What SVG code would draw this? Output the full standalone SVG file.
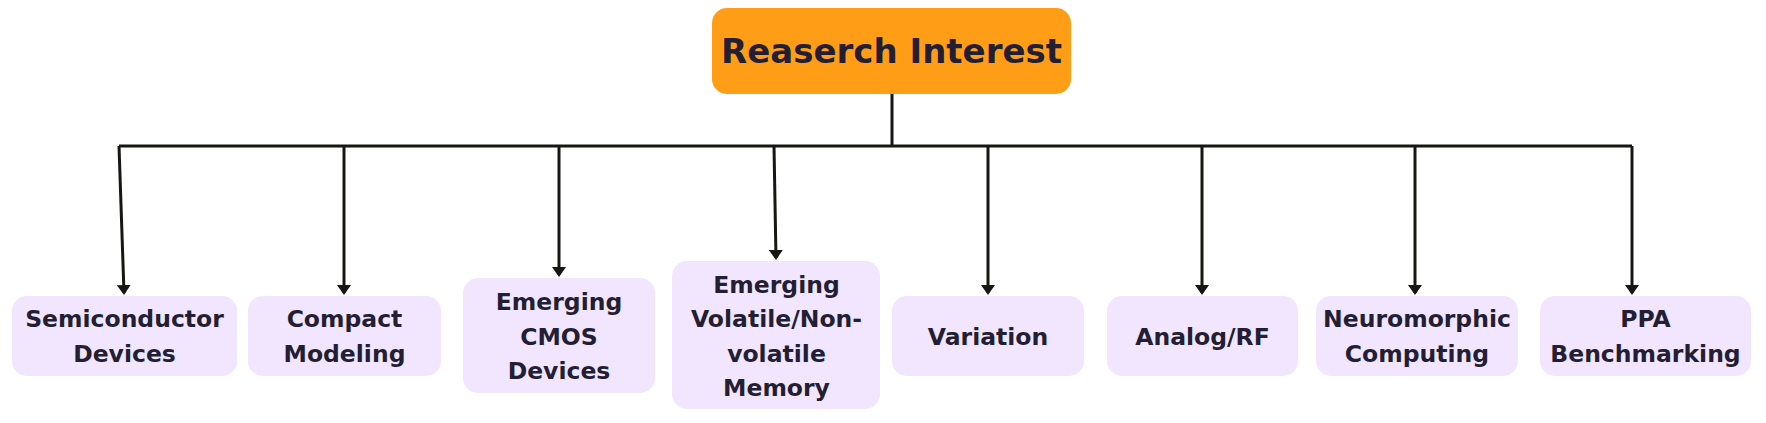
<svg xmlns="http://www.w3.org/2000/svg" width="1766" height="423" viewBox="0 0 1766 423">
<style>
.bg{fill:#ffffff}
.root{fill:#FF9E16}
.leaf{fill:#F1E6FD}
.t{font-family:"DejaVu Sans",sans-serif;font-weight:bold;fill:#231E33;text-anchor:middle}
.tt{font-size:34px}
.lt{font-size:23.5px}
.c{fill:none;stroke:#161613;stroke-width:3;stroke-linecap:butt;stroke-linejoin:round}
</style>
<defs>
<marker id="arr" viewBox="0 0 10 14" refX="8" refY="7" markerWidth="10" markerHeight="14" markerUnits="userSpaceOnUse" orient="auto">
<path d="M0,0 L10,7 L0,14 z" fill="#161613"/>
</marker>
</defs>
<rect class="bg" x="0" y="0" width="1766" height="423"/>
<g id="connectors">
<path class="c" d="M892,94 V146"/>
<path class="c" d="M119,146 H1632"/>
<path class="c" d="M119,146 L124,293" marker-end="url(#arr)"/>
<path class="c" d="M344,146 V293" marker-end="url(#arr)"/>
<path class="c" d="M559,146 V275" marker-end="url(#arr)"/>
<path class="c" d="M774,146 L776,258" marker-end="url(#arr)"/>
<path class="c" d="M988,146 V293" marker-end="url(#arr)"/>
<path class="c" d="M1202,146 V293" marker-end="url(#arr)"/>
<path class="c" d="M1415,146 V293" marker-end="url(#arr)"/>
<path class="c" d="M1632,146 V293" marker-end="url(#arr)"/>
</g>
<g id="node-root">
<rect class="root" x="712" y="8" width="359" height="86" rx="15"/>
<text class="t tt" x="891.5" y="63">Reaserch Interest</text>
</g>
<g id="node-semiconductor">
<rect class="leaf" x="12" y="296" width="225" height="80" rx="15"/>
<text class="t lt" x="124.5" y="327.25">Semiconductor</text>
<text class="t lt" x="124.5" y="361.75">Devices</text>
</g>
<g id="node-compact">
<rect class="leaf" x="248" y="296" width="193" height="80" rx="15"/>
<text class="t lt" x="344.5" y="327.25">Compact</text>
<text class="t lt" x="344.5" y="361.75">Modeling</text>
</g>
<g id="node-cmos">
<rect class="leaf" x="463" y="278" width="192" height="115" rx="15"/>
<text class="t lt" x="559" y="310">Emerging</text>
<text class="t lt" x="559" y="344.5">CMOS</text>
<text class="t lt" x="559" y="379">Devices</text>
</g>
<g id="node-memory">
<rect class="leaf" x="672" y="261" width="208" height="148" rx="15"/>
<text class="t lt" x="776.5" y="292.75">Emerging</text>
<text class="t lt" x="776.5" y="327.25">Volatile/Non-</text>
<text class="t lt" x="776.5" y="361.75">volatile</text>
<text class="t lt" x="776.5" y="396.25">Memory</text>
</g>
<g id="node-variation">
<rect class="leaf" x="892" y="296" width="192" height="80" rx="15"/>
<text class="t lt" x="988" y="344.5">Variation</text>
</g>
<g id="node-analog">
<rect class="leaf" x="1107" y="296" width="191" height="80" rx="15"/>
<text class="t lt" x="1202.5" y="344.5">Analog/RF</text>
</g>
<g id="node-neuromorphic">
<rect class="leaf" x="1316" y="296" width="202" height="80" rx="15"/>
<text class="t lt" x="1417" y="327.25">Neuromorphic</text>
<text class="t lt" x="1417" y="361.75">Computing</text>
</g>
<g id="node-ppa">
<rect class="leaf" x="1540" y="296" width="211" height="80" rx="15"/>
<text class="t lt" x="1645.5" y="327.25">PPA</text>
<text class="t lt" x="1645.5" y="361.75">Benchmarking</text>
</g>
</svg>
